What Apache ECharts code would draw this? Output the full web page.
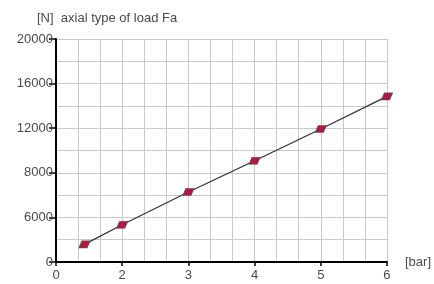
<!DOCTYPE html>
<html>
<head>
<meta charset="utf-8">
<script src="https://cdn.jsdelivr.net/npm/echarts@6/dist/echarts.min.js"></script>
<style>
    html, body {margin:0; padding:0; background:#fff;}
    #main {width:434px; height:284px;}
</style>
</head>
<body>
<div id="main"></div>
<script>
// pressure [bar] vs axial load Fa [N]
var pressure = [1.43, 2, 3, 4, 5, 6];
var force = [1580, 3340, 6280, 9080, 11930, 14850];

var xTickLabels = {1: '0', 2: '2', 3: '3', 4: '4', 5: '5', 6: '6'};
var yTickLabels = {0: '0', 4000: '6000', 8000: '8000', 12000: '12000', 16000: '16000', 20000: '20000'};

var myChart = echarts.init(document.getElementById('main'));

var gridColor = '#c9c9c9';
var textColor = '#4a4a4a';

var option = {
    animation: false,
    title: {
        text: '[N]  axial type of load Fa',
        left: 32,
        top: 7,
        textStyle: {fontSize: 13, fontWeight: 'normal', color: textColor, fontFamily: 'Liberation Sans'}
    },
    grid: {left: 56, right: 44, top: 39, bottom: 22, containLabel: false},
    xAxis: {
        type: 'value',
        min: 1,
        max: 6,
        interval: 1,
        name: '[bar]',
        nameLocation: 'end',
        nameGap: 18,
        nameTextStyle: {fontSize: 13, color: textColor, fontFamily: 'Liberation Sans'},
        axisLine: {show: true, onZero: false, lineStyle: {color: '#000', width: 2}},
        axisTick: {show: true, length: 4, lineStyle: {color: '#000', width: 1.5}},
        axisLabel: {
            fontSize: 13, color: textColor, margin: 7, fontFamily: 'Liberation Sans',
            formatter: function (v) { return xTickLabels[v]; }
        },
        splitLine: {show: true, lineStyle: {color: gridColor, width: 1}},
        minorTick: {show: false, splitNumber: 3},
        minorSplitLine: {show: true, lineStyle: {color: gridColor, width: 1}}
    },
    yAxis: {
        type: 'value',
        min: 0,
        max: 20000,
        interval: 4000,
        axisLine: {show: true, onZero: false, lineStyle: {color: '#000', width: 2}},
        axisTick: {show: true, length: 7, lineStyle: {color: '#000', width: 1.5}},
        axisLabel: {
            fontSize: 13, color: textColor, margin: 3, fontFamily: 'Liberation Sans',
            formatter: function (v) { return yTickLabels[v]; }
        },
        splitLine: {show: true, lineStyle: {color: gridColor, width: 1}},
        minorTick: {show: false, splitNumber: 2},
        minorSplitLine: {show: true, lineStyle: {color: gridColor, width: 1}}
    },
    series: [
        {
            type: 'line',
            data: pressure.map(function (p, i) { return [p, force[i]]; }),
            symbol: 'path://M3,0 L11,0 L8,7 L0,7 Z',
            symbolSize: [11, 7],
            showAllSymbol: true,
            lineStyle: {color: '#333', width: 1.3},
            itemStyle: {color: '#b8163c', borderColor: '#555', borderWidth: 0.8},
            z: 5
        }
    ]
};

myChart.setOption(option);
</script>
</body>
</html>
